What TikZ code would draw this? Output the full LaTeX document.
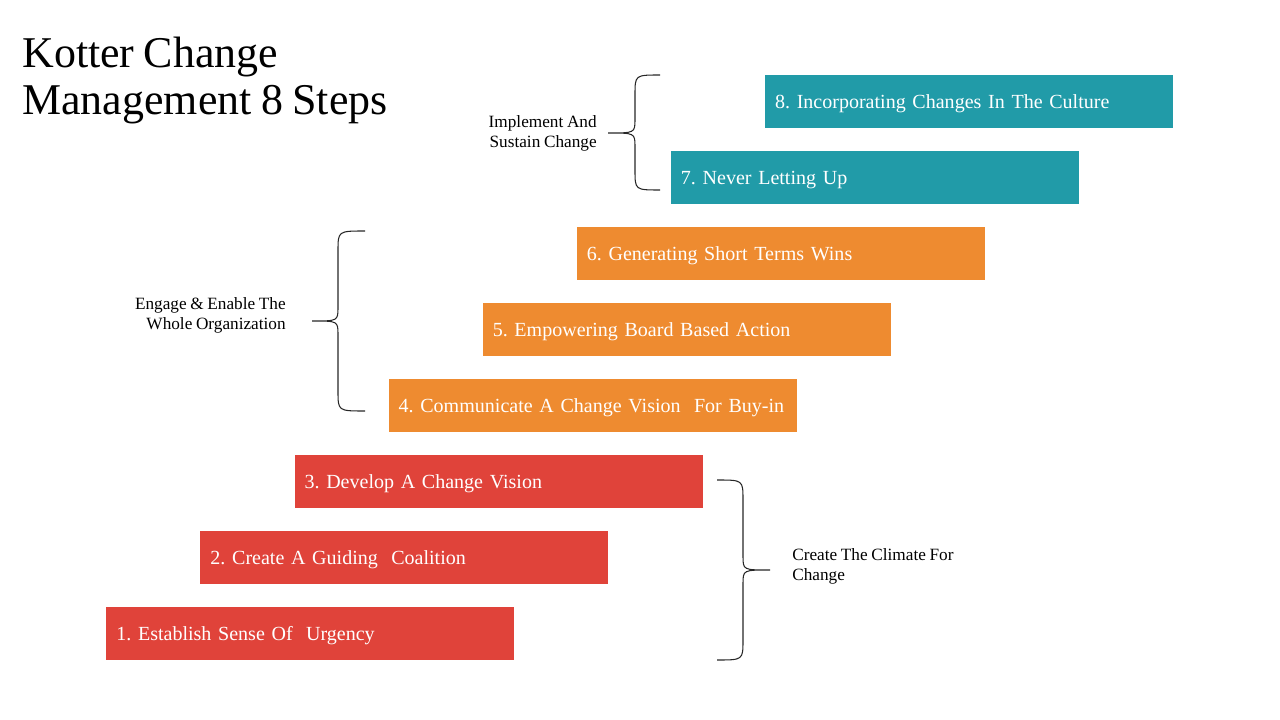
\documentclass[tikz,border=0pt]{standalone}
\usepackage{fontspec}
\setmainfont{Liberation Serif}[WordSpace=0.85]
\usepackage{tikz}
\definecolor{stepred}{HTML}{E0433A}
\definecolor{steporange}{HTML}{EE8B30}
\definecolor{stepteal}{HTML}{219BA8}
\newcommand{\fs}[2]{\fontsize{#1}{#2}\selectfont}
\newcommand{\kbrace}[6]{%
  \draw[curly] (#1,#4) .. controls (#2,#4) .. (#2,#4+20) -- (#2,#5-14)
    .. controls (#2,#5) .. (#3,#5) .. controls (#2,#5) .. (#2,#5+14)
    -- (#2,#6-20) .. controls (#2,#6) .. (#1,#6);}
\frenchspacing

\begin{document}
\begin{tikzpicture}[x=0.2mm,y=-0.2mm,
    stepbox/.style={fill=#1, text=white, anchor=west, minimum height=10.6mm,
        text width=77.6mm, inner xsep=2mm, text depth=0pt, align=left, font=\fs{11.4pt}{13pt}},
    phase/.style={font=\fs{9.8pt}{11.3pt}, inner sep=0pt},
    curly/.style={line width=0.6pt, black!85}]
    \useasboundingbox (0,0) rectangle (1280,720);
    \node[anchor=base west, align=left, inner sep=0pt, font=\fs{25pt}{27.3pt}] (title) at (22,115) {Kotter Change\\Management 8 Steps};
    \foreach \i/\txt/\col in {1/{Establish Sense Of\ \ Urgency}/stepred,
                              2/{Create A Guiding\ \ Coalition}/stepred,
                              3/{Develop A Change Vision}/stepred,
                              4/{Communicate A Change Vision\ \ For Buy-in}/steporange,
                              5/{Empowering Board Based Action}/steporange,
                              6/{Generating Short Terms Wins}/steporange,
                              7/{Never Letting Up}/stepteal,
                              8/{Incorporating Changes In The Culture}/stepteal} {
        \node[stepbox=\col] (s\i) at ({106+94.1*(\i-1)},{633.5-76*(\i-1)}) {\i. \txt};
    }
    \kbrace{660}{635}{608}{75}{133}{190}
    \kbrace{365}{338}{312}{231}{321}{411}
    \kbrace{717}{743}{770}{480}{570}{660}
    \node[phase, anchor=east, align=right] (implement) at (597,133) {Implement And\\Sustain Change};
    \node[phase, anchor=east, align=right] (engage) at (286,315) {Engage \& Enable The\\Whole Organization};
    \node[phase, anchor=west, align=left] (climate) at (792,566) {Create The Climate For\\Change};
\end{tikzpicture}
\end{document}
